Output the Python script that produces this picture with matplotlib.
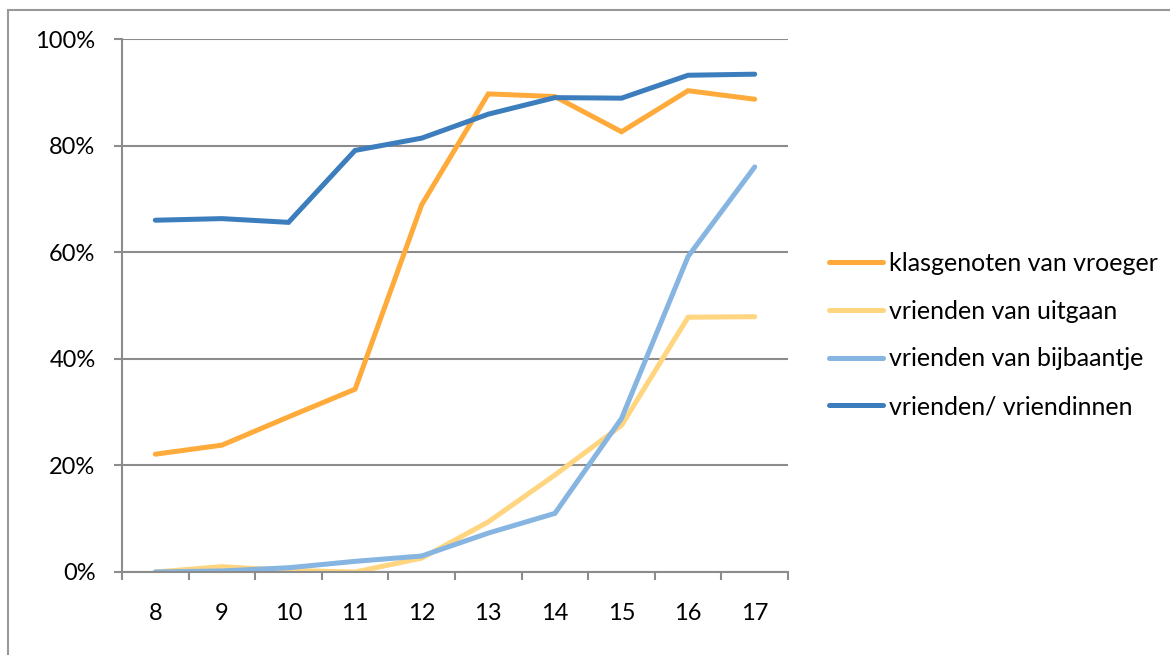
import matplotlib.pyplot as plt
from matplotlib.patches import Rectangle
from matplotlib.ticker import FixedLocator, PercentFormatter

# leeftijden en percentages
ages = ["8", "9", "10", "11", "12", "13", "14", "15", "16", "17"]
klasgenoten = [22.1, 23.8, 29.1, 34.3, 68.9, 89.7, 89.2, 82.6, 90.3, 88.7]
uitgaan = [0.0, 1.0, 0.3, 0.0, 2.6, 9.4, 18.2, 27.5, 47.8, 47.9]
bijbaantje = [0.0, 0.2, 0.8, 2.0, 3.0, 7.3, 11.0, 28.8, 59.2, 76.0]
vrienden = [66.0, 66.3, 65.6, 79.1, 81.4, 85.9, 89.0, 88.9, 93.2, 93.4]

labels = ["klasgenoten van vroeger", "vrienden van uitgaan",
          "vrienden van bijbaantje", "vrienden/ vriendinnen"]
colors = ["#FFAB3B", "#FFD580", "#85B5E0", "#3B7DBD"]

plt.rcParams['font.family'] = ['Lato', 'DejaVu Sans']
grey = "#8C8C8C"

fig = plt.figure(figsize=(11.7, 6.55), dpi=100)
# outer frame (only top and left visible)
fig.patches.append(Rectangle((8 / 1170, -0.05), 1.2, 645 / 655 + 0.05,
                             transform=fig.transFigure, fill=False,
                             edgecolor="#999999", linewidth=1.5))

ax = fig.add_axes([122 / 1170, 83 / 655, 666 / 1170, 533 / 655])

x = list(range(len(ages)))
for series, lab, col in zip([klasgenoten, uitgaan, bijbaantje, vrienden], labels, colors):
    ax.plot(x, series, color=col, linewidth=3.6, label=lab,
            solid_capstyle='round', solid_joinstyle='miter')

ax.set_xlim(-0.5, len(ages) - 0.5)
ax.set_ylim(0, 100)
ax.yaxis.set_major_locator(FixedLocator([0, 20, 40, 60, 80, 100]))
ax.yaxis.set_major_formatter(PercentFormatter(decimals=0))
ax.set_xticks(x)
ax.set_xticklabels(ages)
ax.set_xticks([i - 0.5 for i in range(len(ages) + 1)], minor=True)

ax.tick_params(axis='x', which='major', length=0, pad=22, labelsize=17)
ax.tick_params(axis='x', which='minor', length=6, width=1.5, color=grey, direction='out')
ax.tick_params(axis='y', length=6, width=1.5, color=grey, pad=13, labelsize=17)

ax.grid(axis='y', color=grey, linewidth=1.5)
ax.set_axisbelow(True)
for side in ['top', 'right']:
    ax.spines[side].set_visible(False)
for side in ['left', 'bottom']:
    ax.spines[side].set_color(grey)
    ax.spines[side].set_linewidth(1.5)

ax.legend(loc='center left', bbox_to_anchor=(806 / 1170, 320 / 655),
          bbox_transform=fig.transFigure, frameon=False, fontsize=18,
          handlelength=2.16, handletextpad=0.25, labelspacing=0.99)

fig.savefig("out.png", dpi=100)
